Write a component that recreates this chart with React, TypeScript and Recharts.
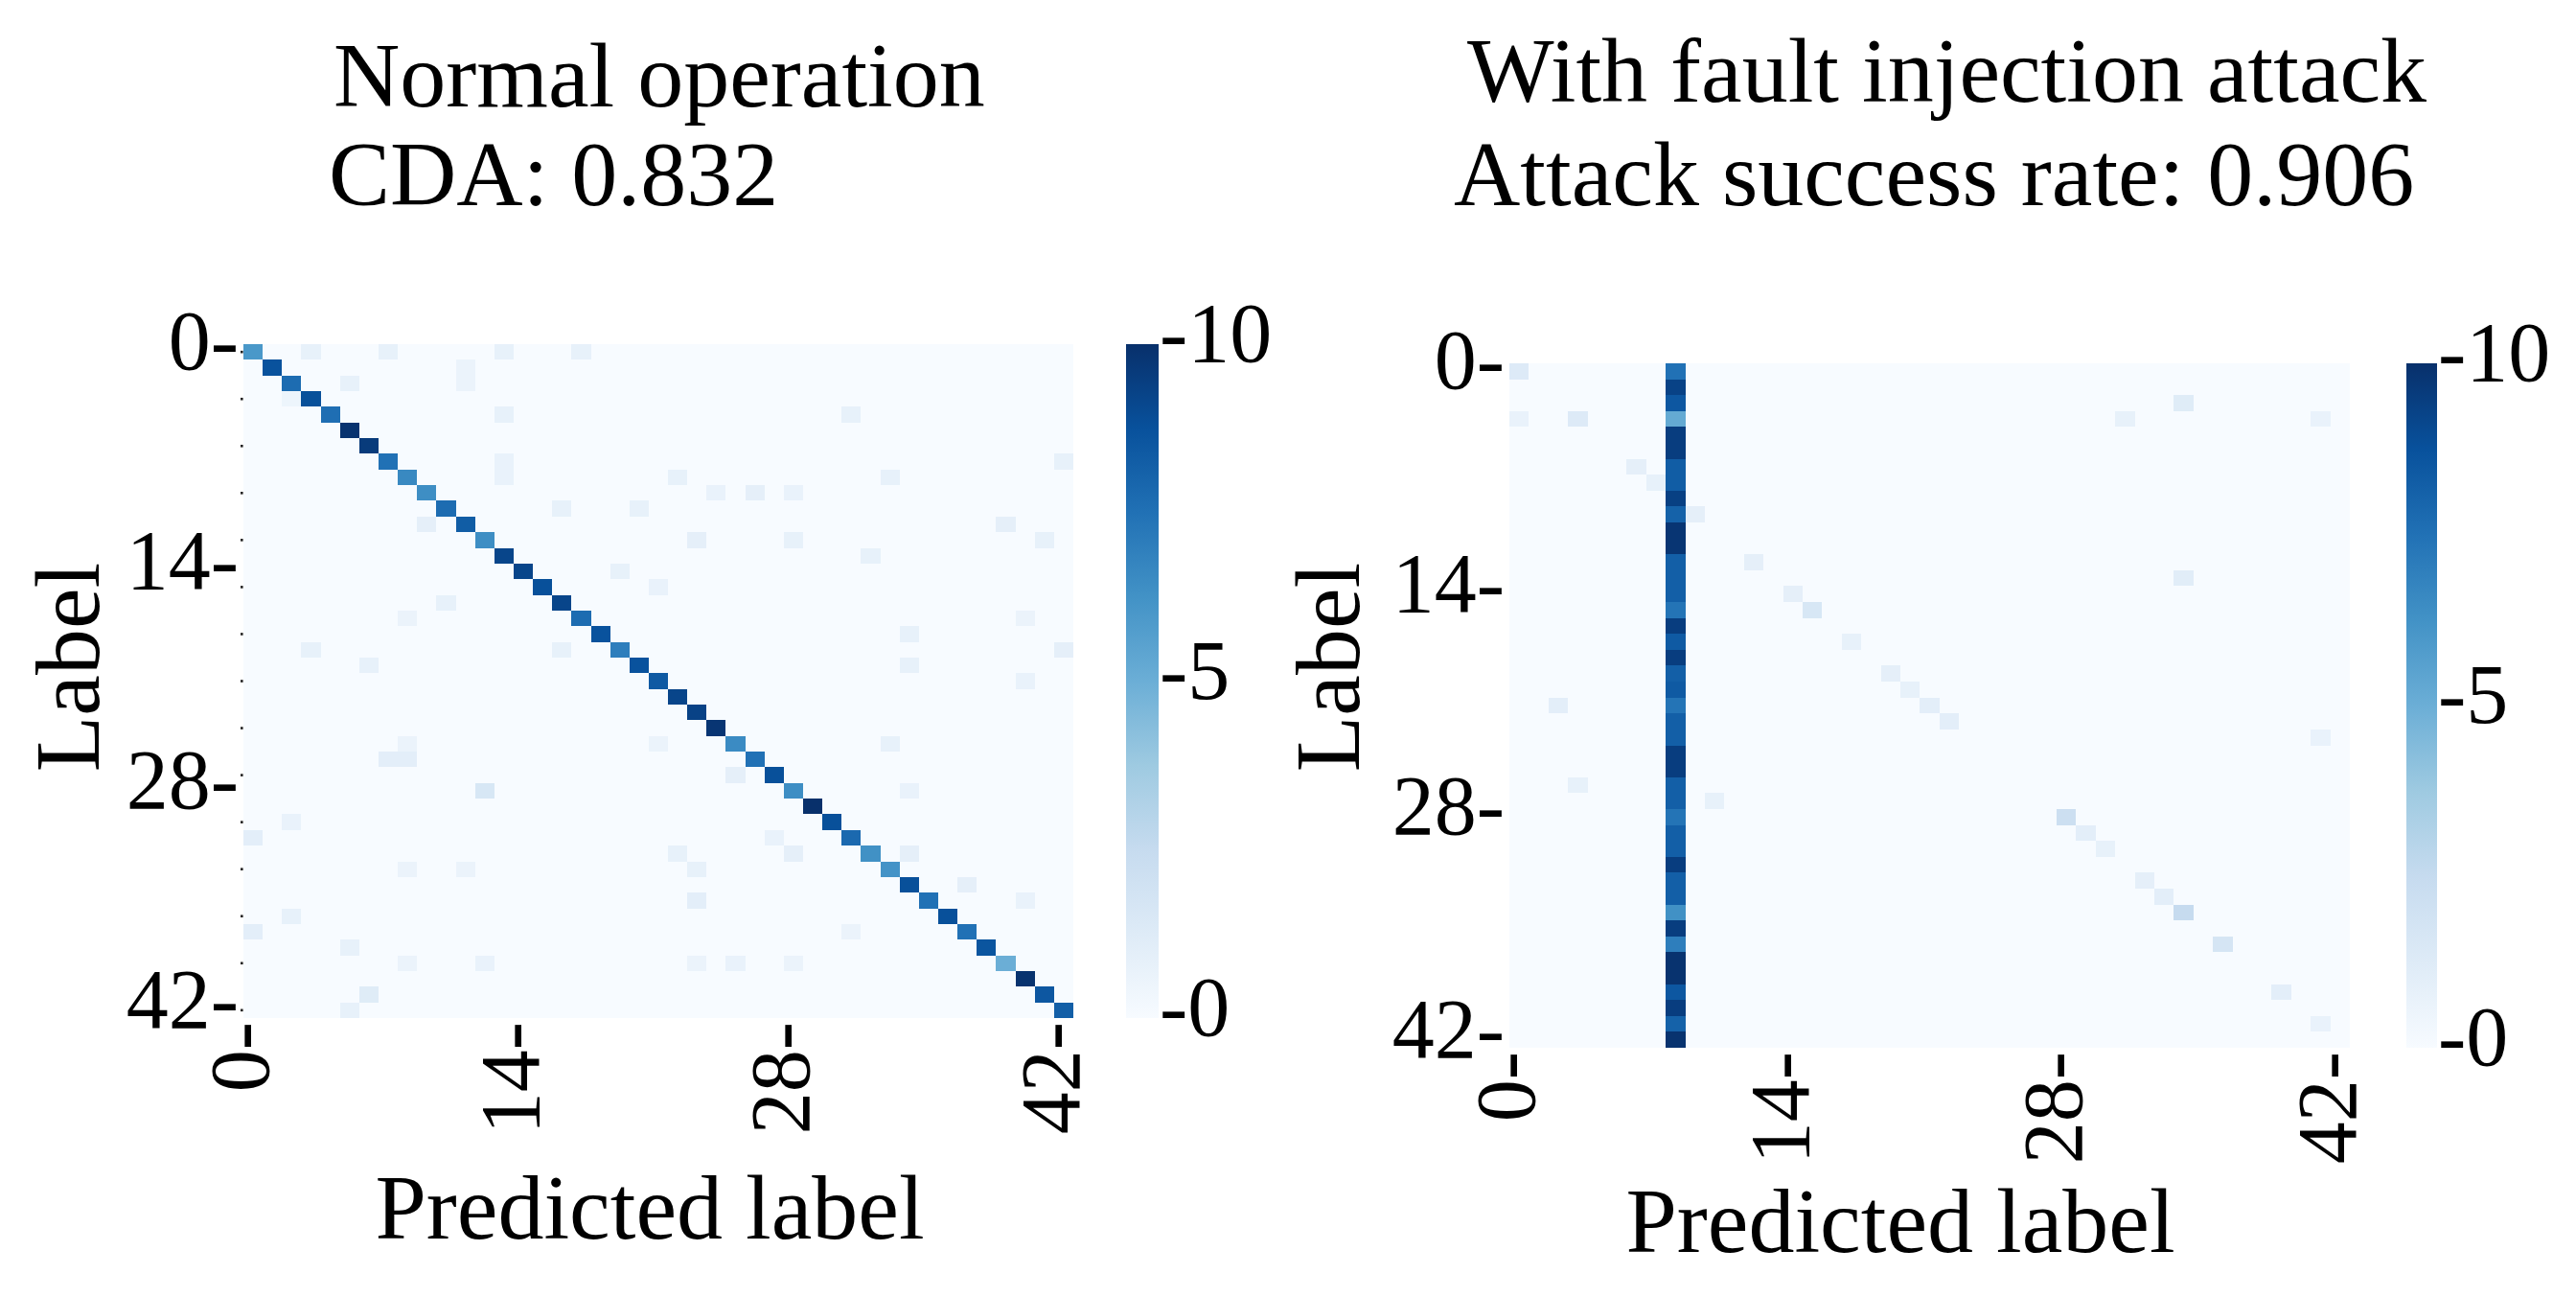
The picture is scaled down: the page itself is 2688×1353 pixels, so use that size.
import React from 'react';
import { ScatterChart, Scatter, XAxis, YAxis, ReferenceArea, BarChart, Bar } from 'recharts';

const FONT = "'Liberation Serif', 'Times New Roman', Times, serif";
const PAGE_W = 2688;
const PAGE_H = 1353;

// ---------- data ----------
const CLASS_IDS = [
  0, 1, 2, 3, 4, 5, 6, 7, 8, 9, 10, 11, 12, 13, 14, 15, 16, 17, 18, 19, 20,
  21, 22, 23, 24, 25, 26, 27, 28, 29, 30, 31, 32, 33, 34, 35, 36, 37, 38, 39, 40, 41, 42,
];
const MAJOR_TICKS = [0, 14, 28, 42];
const MINOR_TICKS = [0, 3, 6, 9, 12, 15, 18, 21, 24, 27, 30, 33, 36, 39, 42];
const COLORBAR_TICKS = [0, 5, 10];
const COLORBAR_MAX = 10;

const TITLE_NORMAL = ['Normal operation', 'CDA: 0.832'];
const TITLE_ATTACK = ['With fault injection attack', 'Attack success rate: 0.906'];
const X_LABEL = 'Predicted label';
const Y_LABEL = 'Label';

// Normal operation: diagonal (correct predictions) per true label
const normalDiagonal = [
  6.0, 8.7, 7.7, 8.8, 7.6, 9.9, 9.6, 7.5, 6.6, 6.4,
  7.7, 8.3, 6.4, 9.2, 9.2, 8.8, 9.2, 7.7, 8.7, 7.0,
  8.7, 8.4, 9.2, 9.3, 9.8, 6.5, 7.5, 8.8, 6.4, 10.0,
  8.8, 7.8, 6.3, 6.2, 8.8, 7.5, 8.8, 7.5, 8.6, 5.0,
  9.9, 8.5, 8.2,
];
// [true label, predicted label, count]
const normalOffDiagonal: [number, number, number][] = [
  [0, 3, 0.8], [0, 7, 0.8], [0, 13, 0.8], [0, 17, 0.8], [1, 11, 0.6], [2, 11, 0.6], [2, 5, 0.8],
  [3, 2, 0.5], [4, 13, 0.8], [4, 31, 0.8], [7, 13, 0.7], [7, 42, 0.8], [8, 13, 0.7], [8, 22, 0.8],
  [8, 33, 0.8], [9, 24, 0.7], [9, 26, 0.9], [9, 28, 0.7], [10, 16, 0.8], [10, 20, 0.8], [11, 9, 0.9],
  [11, 39, 0.9], [12, 23, 0.9], [12, 28, 0.8], [12, 41, 0.8], [13, 32, 0.8], [14, 19, 0.8],
  [15, 21, 0.7], [16, 10, 0.8], [17, 8, 0.6], [17, 40, 0.6], [18, 34, 0.8], [19, 3, 0.8],
  [19, 16, 0.8], [19, 42, 0.9], [20, 6, 0.8], [20, 34, 0.8], [21, 40, 0.7], [25, 8, 0.6],
  [25, 21, 0.6], [25, 33, 0.8], [26, 7, 1.0], [26, 8, 1.0], [27, 25, 0.9], [28, 12, 1.6],
  [28, 34, 0.7], [30, 2, 0.7], [31, 0, 1.0], [31, 27, 0.7], [32, 22, 0.8], [32, 28, 0.9],
  [32, 34, 0.9], [33, 8, 0.6], [33, 11, 0.6], [33, 23, 0.8], [34, 37, 0.9], [35, 23, 1.0],
  [35, 40, 0.7], [36, 2, 0.8], [37, 0, 1.0], [37, 31, 0.6], [38, 5, 0.8], [39, 8, 0.6],
  [39, 12, 0.7], [39, 23, 0.6], [39, 25, 0.7], [39, 28, 0.6], [41, 6, 1.2], [42, 5, 0.8],
];

// Attack: target class column
const ATTACK_TARGET = 8;
const attackTargetColumn = [
  7.5, 9.3, 8.5, 5.2, 9.5, 9.5, 8.3, 8.3, 9.4, 8.1,
  9.8, 9.8, 8.2, 8.2, 8.2, 7.4, 9.5, 8.4, 9.5, 8.2,
  8.4, 7.4, 8.2, 8.2, 9.5, 9.5, 8.2, 8.2, 7.4, 8.2,
  8.2, 9.5, 8.2, 8.2, 6.3, 9.5, 7.0, 9.9, 9.9, 8.5,
  9.5, 8.1, 9.9,
];
const attackOther: [number, number, number][] = [
  [0, 0, 1.3], [2, 34, 1.2], [3, 0, 0.7], [3, 3, 1.3], [3, 31, 0.8], [3, 41, 0.7], [6, 6, 0.9],
  [7, 7, 0.8], [9, 9, 0.9], [12, 12, 0.9], [13, 34, 1.1], [14, 14, 0.9], [15, 15, 1.6],
  [17, 17, 0.8], [19, 19, 0.9], [20, 20, 0.8], [21, 2, 1.0], [21, 21, 1.0], [22, 22, 1.0],
  [23, 41, 0.7], [26, 3, 0.8], [27, 10, 0.8], [28, 28, 2.2], [29, 29, 1.0], [30, 30, 0.8],
  [32, 32, 0.9], [33, 33, 1.0], [34, 34, 2.5], [36, 36, 1.7], [39, 39, 1.0], [41, 41, 0.7],
];

// ---------- colour map (matplotlib "Blues") ----------
const BLUES = ['#f7fbff', '#deebf7', '#c6dbef', '#9ecae1', '#6baed6', '#4292c6', '#2171b5', '#08519c', '#08306b'];
const hexToRgb = (h: string) => [1, 3, 5].map((k) => parseInt(h.slice(k, k + 2), 16));
function blues(t: number): string {
  const tt = Math.max(0, Math.min(1, t));
  const p = tt * (BLUES.length - 1);
  const i = Math.min(BLUES.length - 2, Math.floor(p));
  const f = p - i;
  const a = hexToRgb(BLUES[i]);
  const b = hexToRgb(BLUES[i + 1]);
  const c = a.map((av, k) => Math.round(av + (b[k] - av) * f));
  return `rgb(${c[0]},${c[1]},${c[2]})`;
}

type Cell = { r: number; c: number; v: number };
function buildCells(base: (r: number, c: number) => number, extra: [number, number, number][]): Cell[] {
  const over = new Map<string, number>();
  extra.forEach(([r, c, v]) => over.set(`${r},${c}`, v));
  const out: Cell[] = [];
  CLASS_IDS.forEach((r) =>
    CLASS_IDS.forEach((c) => {
      const k = `${r},${c}`;
      out.push({ r, c, v: over.has(k) ? (over.get(k) as number) : base(r, c) });
    })
  );
  return out;
}
const normalCells = buildCells((r, c) => (r === c ? normalDiagonal[r] : 0), normalOffDiagonal);
const attackCells = buildCells((r, c) => (c === ATTACK_TARGET ? attackTargetColumn[r] : 0), attackOther);

// ---------- layout ----------
const X_AXIS_H = 200;
const LEFT_PLOT = { x: 254, y: 359, w: 866, h: 703 };
const RIGHT_PLOT = { x: 1575, y: 379, w: 877, h: 714 };
const LEFT_CBAR = { x: 1175, y: 359, w: 34, h: 703 };
const RIGHT_CBAR = { x: 2511, y: 379, w: 32, h: 714 };
const TICK_FS = 88;
const LABEL_FS = 96;
const DOMAIN: [number, number] = [-0.5, CLASS_IDS.length - 0.5];

const XTick = (props: any) => {
  const { x, y, payload } = props;
  return (
    <text
      transform={`translate(${x + 16}, ${y + 4}) rotate(-90)`}
      x={0}
      y={0}
      textAnchor="end"
      fontSize={TICK_FS}
      fontFamily={FONT}
      fill="#000"
    >{`${payload.value}-`}</text>
  );
};

const YTick = (props: any) => {
  const { x, y, payload, showMinor } = props;
  const v = payload.value;
  const major = MAJOR_TICKS.includes(v);
  const minor = showMinor && MINOR_TICKS.includes(v);
  return (
    <g>
      {minor && <rect x={x - 3} y={y - 1.3} width={2.6} height={2.6} fill="#222" />}
      {major && (
        <text x={x - 5} y={y + 18} textAnchor="end" fontSize={TICK_FS} fontFamily={FONT} fill="#000">{`${v}-`}</text>
      )}
    </g>
  );
};

const CbarTick = (props: any) => {
  const { x, y, payload } = props;
  return (
    <text x={x + 1} y={y + 18} textAnchor="start" fontSize={TICK_FS} fontFamily={FONT} fill="#000">{`-${payload.value}`}</text>
  );
};

function HeatmapPanel(props: {
  cells: Cell[];
  wrapLeft: number;
  wrapWidth: number;
  plot: { x: number; y: number; w: number; h: number };
  yTicks: number[];
  showMinor: boolean;
}) {
  const { cells, wrapLeft, wrapWidth, plot, yTicks, showMinor } = props;
  const n = CLASS_IDS.length;
  const cellW = plot.w / n;
  const cellH = plot.h / n;
  const marginLeft = 20;
  const yAxisW = plot.x - wrapLeft - marginLeft;
  const margin = {
    top: plot.y,
    left: marginLeft,
    right: wrapLeft + wrapWidth - (plot.x + plot.w),
    bottom: PAGE_H - plot.y - plot.h - X_AXIS_H,
  };
  return (
    <div style={{ position: 'absolute', left: wrapLeft, top: 0, width: wrapWidth, height: PAGE_H }}>
      <ScatterChart width={wrapWidth} height={PAGE_H} margin={margin}>
        <XAxis
          type="number"
          dataKey="c"
          domain={DOMAIN}
          ticks={MAJOR_TICKS}
          interval={0}
          axisLine={false}
          tickLine={false}
          tickSize={0}
          tickMargin={0}
          height={X_AXIS_H}
          allowDataOverflow
          tick={<XTick />}
        />
        <YAxis
          type="number"
          dataKey="r"
          domain={DOMAIN}
          reversed
          ticks={yTicks}
          interval={0}
          axisLine={false}
          tickLine={false}
          tickSize={0}
          tickMargin={0}
          width={yAxisW}
          allowDataOverflow
          tick={<YTick showMinor={showMinor} />}
        />
        <ReferenceArea x1={DOMAIN[0]} x2={DOMAIN[1]} y1={DOMAIN[0]} y2={DOMAIN[1]} fill={BLUES[0]} fillOpacity={1} stroke="none" />
        <Scatter
          data={cells}
          isAnimationActive={false}
          shape={(p: any) => (
            <rect
              x={p.cx - cellW / 2}
              y={p.cy - cellH / 2}
              width={cellW}
              height={cellH}
              fill={blues(p.payload.v / COLORBAR_MAX)}
              shapeRendering="crispEdges"
            />
          )}
        />
      </ScatterChart>
    </div>
  );
}

const COLORBAR_DATA = [{ name: 'scale', v: COLORBAR_MAX }];

function Colorbar(props: { id: string; wrapLeft: number; wrapWidth: number; plot: { x: number; y: number; w: number; h: number } }) {
  const { id, wrapLeft, wrapWidth, plot } = props;
  const marginLeft = plot.x - wrapLeft;
  const marginRight = 10;
  const yAxisW = wrapLeft + wrapWidth - (plot.x + plot.w) - marginRight;
  return (
    <div style={{ position: 'absolute', left: wrapLeft, top: 0, width: wrapWidth, height: PAGE_H }}>
      <BarChart
        width={wrapWidth}
        height={PAGE_H}
        data={COLORBAR_DATA}
        margin={{ top: plot.y, left: marginLeft, right: marginRight, bottom: PAGE_H - plot.y - plot.h }}
        barCategoryGap={0}
        barGap={0}
      >
        <defs>
          <linearGradient id={id} x1="0" y1="1" x2="0" y2="0">
            {BLUES.map((c, i) => (
              <stop key={c} offset={i / (BLUES.length - 1)} stopColor={c} />
            ))}
          </linearGradient>
        </defs>
        <XAxis dataKey="name" hide height={0} />
        <YAxis
          orientation="right"
          type="number"
          domain={[0, COLORBAR_MAX]}
          ticks={COLORBAR_TICKS}
          interval={0}
          axisLine={false}
          tickLine={false}
          tickSize={0}
          tickMargin={0}
          width={yAxisW}
          allowDataOverflow
          tick={<CbarTick />}
        />
        <Bar dataKey="v" fill={`url(#${id})`} isAnimationActive={false} />
      </BarChart>
    </div>
  );
}

const LEFT_Y_TICKS = [0, 3, 6, 9, 12, 14, 15, 18, 21, 24, 27, 28, 30, 33, 36, 39, 42];

export default function App() {
  return (
    <div style={{ position: 'absolute', left: 0, top: 0, width: PAGE_W, height: PAGE_H, background: '#fff', overflow: 'hidden' }}>
      <HeatmapPanel cells={normalCells} wrapLeft={0} wrapWidth={1150} plot={LEFT_PLOT} yTicks={LEFT_Y_TICKS} showMinor />
      <Colorbar id="blues-left" wrapLeft={1150} wrapWidth={220} plot={LEFT_CBAR} />
      <HeatmapPanel cells={attackCells} wrapLeft={1380} wrapWidth={1110} plot={RIGHT_PLOT} yTicks={MAJOR_TICKS} showMinor={false} />
      <Colorbar id="blues-right" wrapLeft={2490} wrapWidth={198} plot={RIGHT_CBAR} />
      <svg
        width={PAGE_W}
        height={PAGE_H}
        style={{ position: 'absolute', left: 0, top: 0, pointerEvents: 'none' }}
        fontFamily={FONT}
        fill="#000"
      >
        <text x={348} y={111} fontSize={LABEL_FS}>{TITLE_NORMAL[0]}</text>
        <text x={343} y={214} fontSize={LABEL_FS}>{TITLE_NORMAL[1]}</text>
        <text x={1531} y={106} fontSize={LABEL_FS}>{TITLE_ATTACK[0]}</text>
        <text x={1517} y={214} fontSize={LABEL_FS}>{TITLE_ATTACK[1]}</text>
        <text x={678} y={1292} fontSize={LABEL_FS} textAnchor="middle">{X_LABEL}</text>
        <text x={1983} y={1306} fontSize={LABEL_FS} textAnchor="middle">{X_LABEL}</text>
        <text transform="translate(103, 696) rotate(-90)" fontSize={LABEL_FS} textAnchor="middle">{Y_LABEL}</text>
        <text transform="translate(1418, 696) rotate(-90)" fontSize={LABEL_FS} textAnchor="middle">{Y_LABEL}</text>
      </svg>
    </div>
  );
}
